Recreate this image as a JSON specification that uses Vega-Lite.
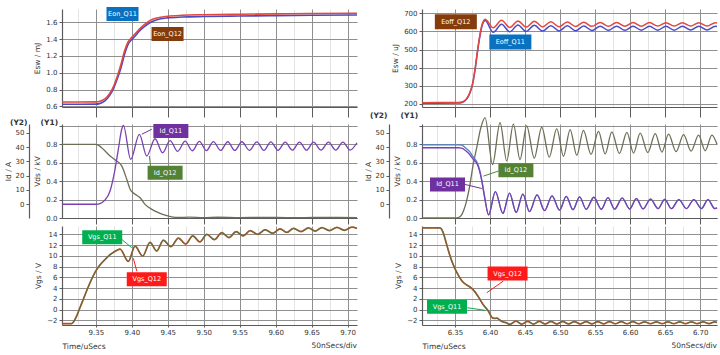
{
 "$schema": "https://vega.github.io/schema/vega-lite/v6.json",
 "background": "#ffffff",
 "padding": {"left": 4, "top": 6, "right": 0, "bottom": 0},
 "config": {
  "font": "DejaVu Sans",
  "view": {"stroke": null},
  "axis": {"labelFontSize": 7, "titleFontSize": 7.5, "titleFontWeight": "normal", "labelColor": "#333333", "titleColor": "#333333", "domainColor": "#5a5a5a", "domainWidth": 1.2, "gridColor": "#8f8f8f", "gridWidth": 1, "tickColor": "#5a5a5a", "labelOverlap": false, "labelFlush": false},
  "axisY": {"tickSize": 3, "labelPadding": 2, "titlePadding": 4, "labelOverlap": false},
  "text": {"font": "DejaVu Sans"}
 },
 "datasets": {
  "eon": [
   {"t": 9.303, "q11": 0.625, "q12": 0.652}, {"t": 9.35, "q11": 0.626, "q12": 0.653}, {"t": 9.355, "q11": 0.632, "q12": 0.658},
   {"t": 9.36, "q11": 0.65, "q12": 0.675}, {"t": 9.365, "q11": 0.685, "q12": 0.708}, {"t": 9.37, "q11": 0.74, "q12": 0.762},
   {"t": 9.375, "q11": 0.82, "q12": 0.845}, {"t": 9.38, "q11": 0.93, "q12": 0.96}, {"t": 9.385, "q11": 1.06, "q12": 1.1},
   {"t": 9.39, "q11": 1.22, "q12": 1.26}, {"t": 9.395, "q11": 1.34, "q12": 1.37}, {"t": 9.4, "q11": 1.395, "q12": 1.42},
   {"t": 9.405, "q11": 1.44, "q12": 1.465}, {"t": 9.41, "q11": 1.49, "q12": 1.515}, {"t": 9.417, "q11": 1.545, "q12": 1.57},
   {"t": 9.425, "q11": 1.595, "q12": 1.62}, {"t": 9.435, "q11": 1.63, "q12": 1.652}, {"t": 9.45, "q11": 1.652, "q12": 1.672},
   {"t": 9.47, "q11": 1.662, "q12": 1.683}, {"t": 9.5, "q11": 1.668, "q12": 1.69}, {"t": 9.55, "q11": 1.674, "q12": 1.696},
   {"t": 9.6, "q11": 1.679, "q12": 1.7}, {"t": 9.65, "q11": 1.683, "q12": 1.704}, {"t": 9.713, "q11": 1.687, "q12": 1.707}
  ],
  "eoff": [
   {"t": 6.303, "q11": 203, "q12": 206}, {"t": 6.355, "q11": 204, "q12": 207}, {"t": 6.36, "q11": 207, "q12": 210},
   {"t": 6.364, "q11": 215, "q12": 218}, {"t": 6.368, "q11": 233, "q12": 236}, {"t": 6.3714, "q11": 260, "q12": 262},
   {"t": 6.375, "q11": 305, "q12": 308}, {"t": 6.3786, "q11": 385, "q12": 388}, {"t": 6.383, "q11": 510, "q12": 515},
   {"t": 6.388, "q11": 620, "q12": 628}, {"t": 6.393, "q11": 660, "q12": 667},
   {"t": 6.4047, "q11": 595, "q12": 620}, {"t": 6.4165, "q11": 640, "q12": 662}, {"t": 6.4282, "q11": 598, "q12": 622},
   {"t": 6.4399, "q11": 636, "q12": 658}, {"t": 6.4517, "q11": 600, "q12": 624}, {"t": 6.4634, "q11": 634, "q12": 656},
   {"t": 6.4751, "q11": 602, "q12": 625}, {"t": 6.4869, "q11": 632, "q12": 654}, {"t": 6.4986, "q11": 603, "q12": 626},
   {"t": 6.5104, "q11": 631, "q12": 652}, {"t": 6.5221, "q11": 604, "q12": 627}, {"t": 6.5338, "q11": 630, "q12": 651},
   {"t": 6.5456, "q11": 605, "q12": 628}, {"t": 6.5573, "q11": 629, "q12": 650}, {"t": 6.569, "q11": 606, "q12": 628},
   {"t": 6.5808, "q11": 629, "q12": 650}, {"t": 6.5925, "q11": 606, "q12": 629}, {"t": 6.6042, "q11": 628, "q12": 649},
   {"t": 6.616, "q11": 607, "q12": 629}, {"t": 6.6277, "q11": 628, "q12": 649}, {"t": 6.6394, "q11": 607, "q12": 630},
   {"t": 6.6512, "q11": 628, "q12": 648}, {"t": 6.6629, "q11": 607, "q12": 630}, {"t": 6.6746, "q11": 628, "q12": 648},
   {"t": 6.6864, "q11": 608, "q12": 630}, {"t": 6.6981, "q11": 628, "q12": 648}, {"t": 6.7098, "q11": 608, "q12": 630},
   {"t": 6.7216, "q11": 628, "q12": 648}, {"t": 6.724, "q11": 627, "q12": 647}
  ],
  "vdsL": [
   {"t": 9.303, "v": 0.8}, {"t": 9.35, "v": 0.8}, {"t": 9.3545, "v": 0.785}, {"t": 9.3604, "v": 0.746}, {"t": 9.3698, "v": 0.673},
   {"t": 9.379, "v": 0.619}, {"t": 9.386, "v": 0.565}, {"t": 9.393, "v": 0.42}, {"t": 9.3978, "v": 0.31}, {"t": 9.4047, "v": 0.257},
   {"t": 9.4115, "v": 0.22}, {"t": 9.4184, "v": 0.148}, {"t": 9.4278, "v": 0.094}, {"t": 9.437, "v": 0.058}, {"t": 9.4463, "v": 0.03},
   {"t": 9.4556, "v": 0.012}, {"t": 9.465, "v": 0.006}, {"t": 9.48, "v": 0.009}, {"t": 9.5, "v": 0.004}, {"t": 9.52, "v": 0.008},
   {"t": 9.55, "v": 0.004}, {"t": 9.58, "v": 0.007}, {"t": 9.62, "v": 0.004}, {"t": 9.66, "v": 0.006}, {"t": 9.713, "v": 0.005}
  ],
  "idL": [
   {"t": 9.303, "a": 0}, {"t": 9.35, "a": 0}, {"t": 9.356, "a": 0.5}, {"t": 9.362, "a": 2.5}, {"t": 9.3698, "a": 9.3},
   {"t": 9.3767, "a": 24.4}, {"t": 9.3813, "a": 38.4}, {"t": 9.386, "a": 52.4}, {"t": 9.3883, "a": 55.2},
   {"t": 9.3985, "a": 31.4}, {"t": 9.4105, "a": 48.9}, {"t": 9.4208, "a": 33.7}, {"t": 9.4323, "a": 45.8},
   {"t": 9.4428, "a": 36.0}, {"t": 9.4532, "a": 44.5}, {"t": 9.4637, "a": 37.0}, {"t": 9.4741, "a": 44.1},
   {"t": 9.4841, "a": 37.4}, {"t": 9.494, "a": 43.9}, {"t": 9.5037, "a": 37.5}, {"t": 9.5134, "a": 43.8},
   {"t": 9.5234, "a": 37.6}, {"t": 9.5334, "a": 43.7}, {"t": 9.5432, "a": 37.6}, {"t": 9.553, "a": 43.7},
   {"t": 9.5634, "a": 37.7}, {"t": 9.5738, "a": 43.6}, {"t": 9.5836, "a": 37.7}, {"t": 9.5933, "a": 43.6},
   {"t": 9.6033, "a": 37.7}, {"t": 9.6132, "a": 43.5}, {"t": 9.6232, "a": 37.8}, {"t": 9.6331, "a": 43.5},
   {"t": 9.6429, "a": 37.8}, {"t": 9.6526, "a": 43.5}, {"t": 9.663, "a": 37.8}, {"t": 9.6734, "a": 43.4},
   {"t": 9.6834, "a": 37.8}, {"t": 9.6934, "a": 43.4}, {"t": 9.7034, "a": 37.9}, {"t": 9.713, "a": 43.0}
  ],
  "vdsR": [
   {"t": 6.303, "v": 0.0}, {"t": 6.35, "v": 0.0}, {"t": 6.355, "v": 0.005}, {"t": 6.36, "v": 0.04}, {"t": 6.365, "v": 0.14},
   {"t": 6.3714, "v": 0.36}, {"t": 6.376, "v": 0.58}, {"t": 6.381, "v": 0.76}, {"t": 6.387, "v": 0.98}, {"t": 6.393, "v": 1.09},
   {"t": 6.4037, "v": 0.58}, {"t": 6.4144, "v": 1.035}, {"t": 6.4239, "v": 0.62}, {"t": 6.4334, "v": 1.018},
   {"t": 6.4429, "v": 0.635}, {"t": 6.4524, "v": 1.0}, {"t": 6.4632, "v": 0.65}, {"t": 6.4739, "v": 0.985},
   {"t": 6.4846, "v": 0.66}, {"t": 6.4953, "v": 0.97}, {"t": 6.5049, "v": 0.67}, {"t": 6.5144, "v": 0.96},
   {"t": 6.5239, "v": 0.68}, {"t": 6.5334, "v": 0.95}, {"t": 6.5442, "v": 0.69}, {"t": 6.5549, "v": 0.94},
   {"t": 6.5644, "v": 0.695}, {"t": 6.5739, "v": 0.935}, {"t": 6.5847, "v": 0.7}, {"t": 6.5954, "v": 0.93},
   {"t": 6.6049, "v": 0.705}, {"t": 6.6144, "v": 0.92}, {"t": 6.6252, "v": 0.71}, {"t": 6.6359, "v": 0.915},
   {"t": 6.6454, "v": 0.715}, {"t": 6.6549, "v": 0.91}, {"t": 6.6656, "v": 0.72}, {"t": 6.6763, "v": 0.905},
   {"t": 6.687, "v": 0.725}, {"t": 6.6977, "v": 0.9}, {"t": 6.7072, "v": 0.73}, {"t": 6.7167, "v": 0.9}, {"t": 6.724, "v": 0.8}
  ],
  "idR": [
   {"t": 6.303, "q11": 41.5, "q12": 39.5}, {"t": 6.355, "q11": 41.5, "q12": 39.5}, {"t": 6.3596, "q11": 41.3, "q12": 39.3},
   {"t": 6.365, "q11": 39.5, "q12": 37.6}, {"t": 6.3714, "q11": 36.6, "q12": 34.6}, {"t": 6.376, "q11": 33.2, "q12": 31.5},
   {"t": 6.381, "q11": 29.8, "q12": 28.8}, {"t": 6.385, "q11": 24.5, "q12": 23.5}, {"t": 6.388, "q11": 18.0, "q12": 17.0},
   {"t": 6.391, "q11": 9.5, "q12": 8.5}, {"t": 6.393, "q11": 3.5, "q12": 3.0}, {"t": 6.398, "q11": -7.3, "q12": -7.5},
   {"t": 6.4077, "q11": 8.9, "q12": 8.9}, {"t": 6.4184, "q11": -6.4, "q12": -6.4}, {"t": 6.4279, "q11": 7.8, "q12": 7.8},
   {"t": 6.4374, "q11": -5.7, "q12": -5.7}, {"t": 6.4469, "q11": 7.15, "q12": 7.15}, {"t": 6.4564, "q11": -5.1, "q12": -5.1},
   {"t": 6.4672, "q11": 6.5, "q12": 6.5}, {"t": 6.4779, "q11": -4.4, "q12": -4.4}, {"t": 6.4886, "q11": 5.9, "q12": 5.9},
   {"t": 6.4993, "q11": -4.1, "q12": -4.1}, {"t": 6.5089, "q11": 5.5, "q12": 5.5}, {"t": 6.5184, "q11": -3.8, "q12": -3.8},
   {"t": 6.5279, "q11": 5.2, "q12": 5.2}, {"t": 6.5374, "q11": -3.6, "q12": -3.6}, {"t": 6.5482, "q11": 4.9, "q12": 4.9},
   {"t": 6.5589, "q11": -3.5, "q12": -3.5}, {"t": 6.5684, "q11": 4.6, "q12": 4.6}, {"t": 6.5779, "q11": -3.4, "q12": -3.4},
   {"t": 6.5887, "q11": 4.3, "q12": 4.3}, {"t": 6.5994, "q11": -3.3, "q12": -3.3}, {"t": 6.6089, "q11": 3.9, "q12": 3.9},
   {"t": 6.6184, "q11": -3.2, "q12": -3.2}, {"t": 6.6292, "q11": 3.6, "q12": 3.6}, {"t": 6.6399, "q11": -3.1, "q12": -3.1},
   {"t": 6.6494, "q11": 3.4, "q12": 3.4}, {"t": 6.6589, "q11": -3.1, "q12": -3.1}, {"t": 6.6696, "q11": 3.3, "q12": 3.3},
   {"t": 6.6803, "q11": -3.0, "q12": -3.0}, {"t": 6.691, "q11": 3.3, "q12": 3.3}, {"t": 6.7017, "q11": -3.0, "q12": -3.0},
   {"t": 6.7112, "q11": 3.2, "q12": 3.2}, {"t": 6.7207, "q11": -3.0, "q12": -3.0}, {"t": 6.724, "q11": -2.5, "q12": -2.5}
  ],
  "vgsL": [
   {"t": 9.303, "v": -2.6}, {"t": 9.3162, "v": -2.6}, {"t": 9.319, "v": -2.3}, {"t": 9.3232, "v": -1.26}, {"t": 9.3278, "v": 0.3},
   {"t": 9.3324, "v": 1.83}, {"t": 9.337, "v": 3.4}, {"t": 9.3418, "v": 4.94}, {"t": 9.3465, "v": 6.3}, {"t": 9.351, "v": 7.41},
   {"t": 9.3555, "v": 8.25}, {"t": 9.3603, "v": 8.97}, {"t": 9.365, "v": 9.6}, {"t": 9.3696, "v": 10.2}, {"t": 9.3745, "v": 10.65},
   {"t": 9.379, "v": 11.0}, {"t": 9.3837, "v": 11.25}, {"t": 9.3952, "v": 8.95}, {"t": 9.4045, "v": 11.8}, {"t": 9.4151, "v": 9.95},
   {"t": 9.4254, "v": 12.5}, {"t": 9.4346, "v": 10.9}, {"t": 9.4439, "v": 12.9}, {"t": 9.4543, "v": 11.7}, {"t": 9.4648, "v": 13.3},
   {"t": 9.4748, "v": 12.2}, {"t": 9.4848, "v": 13.7}, {"t": 9.4946, "v": 12.6}, {"t": 9.5043, "v": 14.0}, {"t": 9.5147, "v": 13.0},
   {"t": 9.5251, "v": 14.3}, {"t": 9.535, "v": 13.4}, {"t": 9.545, "v": 14.5}, {"t": 9.5548, "v": 13.7}, {"t": 9.5645, "v": 14.7},
   {"t": 9.5749, "v": 14.0}, {"t": 9.5853, "v": 14.85}, {"t": 9.5958, "v": 14.2}, {"t": 9.6062, "v": 15.0}, {"t": 9.6155, "v": 14.35},
   {"t": 9.6247, "v": 15.1}, {"t": 9.6352, "v": 14.5}, {"t": 9.6456, "v": 15.2}, {"t": 9.6549, "v": 14.6}, {"t": 9.6642, "v": 15.25},
   {"t": 9.6747, "v": 14.7}, {"t": 9.6851, "v": 15.3}, {"t": 9.6955, "v": 14.75}, {"t": 9.7059, "v": 15.35}, {"t": 9.713, "v": 15.1}
  ],
  "vgsR": [
   {"t": 6.303, "v": 15.2}, {"t": 6.328, "v": 15.2}, {"t": 6.3296, "v": 15.15}, {"t": 6.333, "v": 14.4}, {"t": 6.3365, "v": 12.9},
   {"t": 6.3404, "v": 11.1}, {"t": 6.344, "v": 9.6}, {"t": 6.3476, "v": 8.35}, {"t": 6.352, "v": 7.1}, {"t": 6.357, "v": 5.9},
   {"t": 6.3615, "v": 5.1}, {"t": 6.3667, "v": 4.6}, {"t": 6.3715, "v": 4.2}, {"t": 6.376, "v": 3.7}, {"t": 6.383, "v": 2.46},
   {"t": 6.3904, "v": 0.9}, {"t": 6.398, "v": -0.33}, {"t": 6.4024, "v": -1.4}, {"t": 6.406, "v": -1.65}, {"t": 6.41, "v": -1.6},
   {"t": 6.4135, "v": -1.9}, {"t": 6.417, "v": -2.2}, {"t": 6.424, "v": -2.5}, {"t": 6.4285, "v": -2.75}, {"t": 6.437, "v": -2.15},
   {"t": 6.4454, "v": -2.7}, {"t": 6.4537, "v": -2.2}, {"t": 6.4621, "v": -2.7}, {"t": 6.4704, "v": -2.2}, {"t": 6.4788, "v": -2.68},
   {"t": 6.4871, "v": -2.22}, {"t": 6.4955, "v": -2.68}, {"t": 6.5038, "v": -2.22}, {"t": 6.5122, "v": -2.66}, {"t": 6.5205, "v": -2.24},
   {"t": 6.5289, "v": -2.66}, {"t": 6.5372, "v": -2.24}, {"t": 6.5456, "v": -2.65}, {"t": 6.5539, "v": -2.25}, {"t": 6.5623, "v": -2.65},
   {"t": 6.5706, "v": -2.25}, {"t": 6.579, "v": -2.64}, {"t": 6.5873, "v": -2.26}, {"t": 6.5957, "v": -2.64}, {"t": 6.604, "v": -2.26},
   {"t": 6.6124, "v": -2.64}, {"t": 6.6207, "v": -2.27}, {"t": 6.6291, "v": -2.63}, {"t": 6.6374, "v": -2.27}, {"t": 6.6458, "v": -2.63},
   {"t": 6.6541, "v": -2.28}, {"t": 6.6625, "v": -2.63}, {"t": 6.6708, "v": -2.28}, {"t": 6.6792, "v": -2.62}, {"t": 6.6875, "v": -2.28},
   {"t": 6.6959, "v": -2.62}, {"t": 6.7042, "v": -2.29}, {"t": 6.7126, "v": -2.62}, {"t": 6.7209, "v": -2.29}, {"t": 6.724, "v": -2.4}
  ],
  "annL1": [{"t": 9.3871, "y": 1.699, "label": "Eon_Q11"}, {"t": 9.4497, "y": 1.461, "label": "Eon_Q12"}],
  "annR1": [{"t": 6.3513, "y": 653, "label": "Eoff_Q12"}, {"t": 6.4291, "y": 542, "label": "Eoff_Q11"}],
  "annL2": [{"t": 9.4543, "y": 0.945, "label": "Id_Q11"}, {"t": 9.4463, "y": 0.492, "label": "Id_Q12"}],
  "arrL2": [{"t": 9.4278, "y": 0.963, "t2": 9.4139, "y2": 0.909, "label": "Id_Q11"}, {"t": 9.426, "y": 0.565, "t2": 9.4244, "y2": 0.673, "label": "Id_Q12"}],
  "annR2": [{"t": 6.437, "y": 0.518, "label": "Id_Q12"}, {"t": 6.3394, "y": 0.364, "label": "Id_Q11"}],
  "arrR2": [{"t": 6.412, "y": 0.509, "t2": 6.3906, "y2": 0.4545, "label": "Id_Q12"}, {"t": 6.3644, "y": 0.364, "t2": 6.3883, "y2": 0.32, "label": "Id_Q11"}],
  "annL3": [{"t": 9.3589, "y": 13.44, "label": "Vgs_Q11"}, {"t": 9.4208, "y": 5.63, "label": "Vgs_Q12"}],
  "arrL3": [{"t": 9.386, "y": 13.07, "t2": 9.3999, "y2": 11.51, "label": "Vgs_Q11"}, {"t": 9.4069, "y": 7.17, "t2": 9.4022, "y2": 9.53, "label": "Vgs_Q12"}],
  "annR3": [{"t": 6.4251, "y": 6.71, "label": "Vgs_Q12"}, {"t": 6.3387, "y": 0.51, "label": "Vgs_Q11"}],
  "arrR3": [{"t": 6.4191, "y": 5.31, "t2": 6.3954, "y2": 3.13, "label": "Vgs_Q12"}, {"t": 6.3677, "y": 0.34, "t2": 6.393, "y2": -0.14, "label": "Vgs_Q11"}]
 },
 "spacing": 3,
 "hconcat": [
  {
   "spacing": 17,
   "bounds": "flush",
   "vconcat": [
    {
     "width": 295, "height": 98,
     "resolve": {"scale": {"y": "independent"}},
     "encoding": {
      "x": {"field": "t", "type": "quantitative", "title": null, "scale": {"domain": [9.303, 9.713], "nice": false, "zero": false},
            "axis": {"values": [9.325, 9.35, 9.375, 9.4, 9.425, 9.45, 9.475, 9.5, 9.525, 9.55, 9.575, 9.6, 9.625, 9.65, 9.675, 9.7], "labels": false, "title": null, "grid": true, "tickSize": 10,
                     "gridColor": {"condition": {"test": "round(datum.value*1000) % 50 != 0", "value": "#e3e3e3"}, "value": "#8f8f8f"},
                     "tickColor": {"condition": {"test": "round(datum.value*1000) % 50 != 0", "value": "rgba(0,0,0,0)"}, "value": "#5a5a5a"}}}
     },
     "layer": [
      {"data": {"name": "eon"}, "mark": {"type": "line", "color": "#4b4bbf", "strokeWidth": 1.6, "interpolate": "monotone"},
       "encoding": {
        "y": {"field": "q11", "type": "quantitative", "scale": {"domain": [0.592, 1.758], "nice": false, "zero": false},
              "axis": {"values": [0.6, 0.8, 1.0, 1.2, 1.4, 1.6], "format": ".1f", "title": "Esw / mJ", "labelOverlap": false}}}},
      {"data": {"name": "eon"}, "mark": {"type": "line", "color": "#e4473d", "strokeWidth": 1.6, "interpolate": "monotone"},
       "encoding": {
        "y": {"field": "q12", "type": "quantitative", "scale": {"domain": [0.592, 1.758], "nice": false, "zero": false}, "axis": null}}},
      {"data": {"name": "annL1"}, "mark": {"type": "point", "shape": "M-1,-0.4375L1,-0.4375L1,0.4375L-1,0.4375Z", "size": 1024, "filled": true, "opacity": 1, "strokeWidth": 0},
       "encoding": {
        "y": {"field": "y", "type": "quantitative", "scale": {"domain": [0.592, 1.758], "nice": false, "zero": false}, "axis": null},
        "color": {"field": "label", "type": "nominal", "legend": null, "scale": {"domain": ["Eon_Q11", "Eon_Q12", "Eoff_Q11", "Eoff_Q12", "Id_Q11", "Id_Q12", "Vgs_Q11", "Vgs_Q12"], "range": ["#0a70c0", "#843c0c", "#0a70c0", "#843c0c", "#7030a0", "#548235", "#00b050", "#ff1a1a"]}}}},
      {"data": {"name": "annL1"}, "mark": {"type": "text", "color": "#ffffff", "fontSize": 6.5, "align": "center", "baseline": "middle"},
       "encoding": {
        "y": {"field": "y", "type": "quantitative", "scale": {"domain": [0.592, 1.758], "nice": false, "zero": false}, "axis": null},
        "text": {"field": "label"}}}
     ]
    },
    {
     "spacing": 8,
     "bounds": "flush",
     "vconcat": [
      {
       "width": 295, "height": 94,
       "title": {"text": "(Y2)\u00a0\u00a0\u00a0\u00a0\u00a0(Y1)", "anchor": "start", "frame": "group", "orient": "top", "dx": -52, "offset": -5, "fontSize": 7.5, "fontWeight": "bold", "color": "#333333", "font": "DejaVu Sans"},
       "resolve": {"scale": {"y": "independent"}},
       "encoding": {
        "x": {"field": "t", "type": "quantitative", "title": null, "scale": {"domain": [9.303, 9.713], "nice": false, "zero": false},
              "axis": {"values": [9.325, 9.35, 9.375, 9.4, 9.425, 9.45, 9.475, 9.5, 9.525, 9.55, 9.575, 9.6, 9.625, 9.65, 9.675, 9.7], "labels": false, "title": null, "grid": true, "tickSize": 6,
                       "gridColor": {"condition": {"test": "round(datum.value*1000) % 50 != 0", "value": "#e3e3e3"}, "value": "#8f8f8f"},
                       "tickColor": {"condition": {"test": "round(datum.value*1000) % 50 != 0", "value": "rgba(0,0,0,0)"}, "value": "#5a5a5a"}}}
       },
       "layer": [
        {"data": {"name": "vdsL"}, "mark": {"type": "line", "color": "#6e6e56", "strokeWidth": 1.3, "interpolate": "monotone"},
         "encoding": {
          "y": {"field": "v", "type": "quantitative", "scale": {"domain": [0, 1.02], "nice": false, "zero": false},
                "axis": {"values": [0, 0.2, 0.4, 0.6, 0.8, 1.0], "labelExpr": "datum.value > 0.95 ? '' : format(datum.value, '.1f')", "title": "Vds / kV", "labelOverlap": false}}}},
        {"data": {"name": "idL"}, "mark": {"type": "line", "color": "#7a3fb0", "strokeWidth": 1.3, "interpolate": "monotone"},
         "encoding": {
          "y": {"field": "a", "type": "quantitative", "scale": {"domain": [-9.6, 56.1], "nice": false, "zero": false},
                "axis": {"orient": "left", "offset": 33, "values": [0, 10, 20, 30, 40, 50], "grid": false, "title": "Id / A", "titlePadding": 3, "labelOverlap": false}}}},
        {"data": {"name": "arrL2"}, "mark": {"type": "rule", "strokeWidth": 1},
         "encoding": {
          "y": {"field": "y", "type": "quantitative", "scale": {"domain": [0, 1.02], "nice": false, "zero": false}, "axis": null},
          "x2": {"field": "t2"}, "y2": {"field": "y2"},
          "color": {"field": "label", "type": "nominal", "legend": null, "scale": {"domain": ["Eon_Q11", "Eon_Q12", "Eoff_Q11", "Eoff_Q12", "Id_Q11", "Id_Q12", "Vgs_Q11", "Vgs_Q12"], "range": ["#0a70c0", "#843c0c", "#0a70c0", "#843c0c", "#7030a0", "#548235", "#00b050", "#ff1a1a"]}}}},
        {"data": {"name": "annL2"}, "mark": {"type": "point", "shape": "M-1,-0.4L1,-0.4L1,0.4L-1,0.4Z", "size": 1225, "filled": true, "opacity": 1, "strokeWidth": 0},
         "encoding": {
          "y": {"field": "y", "type": "quantitative", "scale": {"domain": [0, 1.02], "nice": false, "zero": false}, "axis": null},
          "color": {"field": "label", "type": "nominal", "legend": null, "scale": {"domain": ["Eon_Q11", "Eon_Q12", "Eoff_Q11", "Eoff_Q12", "Id_Q11", "Id_Q12", "Vgs_Q11", "Vgs_Q12"], "range": ["#0a70c0", "#843c0c", "#0a70c0", "#843c0c", "#7030a0", "#548235", "#00b050", "#ff1a1a"]}}}},
        {"data": {"name": "annL2"}, "mark": {"type": "text", "color": "#ffffff", "fontSize": 6.5, "align": "center", "baseline": "middle"},
         "encoding": {
          "y": {"field": "y", "type": "quantitative", "scale": {"domain": [0, 1.02], "nice": false, "zero": false}, "axis": null},
          "text": {"field": "label"}}}
       ]
      },
      {
       "width": 295, "height": 99,
       "title": {"text": "50nSecs/div", "anchor": "end", "frame": "group", "orient": "bottom", "offset": -8, "fontSize": 7.5, "fontWeight": "normal", "color": "#333333", "font": "DejaVu Sans"},
       "resolve": {"scale": {"y": "independent"}},
       "encoding": {
        "x": {"field": "t", "type": "quantitative", "title": "Time/uSecs", "scale": {"domain": [9.303, 9.713], "nice": false, "zero": false},
              "axis": {"values": [9.325, 9.35, 9.375, 9.4, 9.425, 9.45, 9.475, 9.5, 9.525, 9.55, 9.575, 9.6, 9.625, 9.65, 9.675, 9.7],
                       "labelExpr": "round(datum.value*1000) % 50 == 0 ? format(datum.value, '.2f') : ''", "title": "Time/uSecs", "titleAnchor": "start", "titlePadding": 7, "labelPadding": 1, "grid": true, "tickSize": 2,
                       "gridColor": {"condition": {"test": "round(datum.value*1000) % 50 != 0", "value": "#e3e3e3"}, "value": "#8f8f8f"},
                       "tickColor": {"condition": {"test": "round(datum.value*1000) % 50 != 0", "value": "rgba(0,0,0,0)"}, "value": "#5a5a5a"}}}
       },
       "layer": [
        {"data": {"name": "vgsL"}, "mark": {"type": "line", "color": "#d9603a", "strokeWidth": 1.7, "interpolate": "monotone"},
         "encoding": {
          "y": {"field": "v", "type": "quantitative", "scale": {"domain": [-2.87, 15.55], "nice": false, "zero": false},
                "axis": {"values": [-2, 0, 2, 4, 6, 8, 10, 12, 14], "title": "Vgs / V", "labelOverlap": false}}}},
        {"data": {"name": "vgsL"}, "mark": {"type": "line", "color": "#676a3c", "strokeWidth": 1.3, "interpolate": "monotone"},
         "encoding": {
          "y": {"field": "v", "type": "quantitative", "scale": {"domain": [-2.87, 15.55], "nice": false, "zero": false}, "axis": null}}},
        {"data": {"name": "arrL3"}, "mark": {"type": "rule", "strokeWidth": 1},
         "encoding": {
          "y": {"field": "y", "type": "quantitative", "scale": {"domain": [-2.87, 15.55], "nice": false, "zero": false}, "axis": null},
          "x2": {"field": "t2"}, "y2": {"field": "y2"},
          "color": {"field": "label", "type": "nominal", "legend": null, "scale": {"domain": ["Eon_Q11", "Eon_Q12", "Eoff_Q11", "Eoff_Q12", "Id_Q11", "Id_Q12", "Vgs_Q11", "Vgs_Q12"], "range": ["#0a70c0", "#843c0c", "#0a70c0", "#843c0c", "#7030a0", "#548235", "#00b050", "#ff1a1a"]}}}},
        {"data": {"name": "annL3"}, "mark": {"type": "point", "shape": "M-1,-0.35L1,-0.35L1,0.35L-1,0.35Z", "size": 1600, "filled": true, "opacity": 1, "strokeWidth": 0},
         "encoding": {
          "y": {"field": "y", "type": "quantitative", "scale": {"domain": [-2.87, 15.55], "nice": false, "zero": false}, "axis": null},
          "color": {"field": "label", "type": "nominal", "legend": null, "scale": {"domain": ["Eon_Q11", "Eon_Q12", "Eoff_Q11", "Eoff_Q12", "Id_Q11", "Id_Q12", "Vgs_Q11", "Vgs_Q12"], "range": ["#0a70c0", "#843c0c", "#0a70c0", "#843c0c", "#7030a0", "#548235", "#00b050", "#ff1a1a"]}}}},
        {"data": {"name": "annL3"}, "mark": {"type": "text", "color": "#ffffff", "fontSize": 6.5, "align": "center", "baseline": "middle"},
         "encoding": {
          "y": {"field": "y", "type": "quantitative", "scale": {"domain": [-2.87, 15.55], "nice": false, "zero": false}, "axis": null},
          "text": {"field": "label"}}}
       ]
      }
     ]
    }
   ]
  },
  {
   "spacing": 17,
   "bounds": "flush",
   "vconcat": [
    {
     "width": 295, "height": 98,
     "resolve": {"scale": {"y": "independent"}},
     "encoding": {
      "x": {"field": "t", "type": "quantitative", "title": null, "scale": {"domain": [6.303, 6.724], "nice": false, "zero": false},
            "axis": {"values": [6.325, 6.35, 6.375, 6.4, 6.425, 6.45, 6.475, 6.5, 6.525, 6.55, 6.575, 6.6, 6.625, 6.65, 6.675, 6.7], "labels": false, "title": null, "grid": true, "tickSize": 10,
                     "gridColor": {"condition": {"test": "round(datum.value*1000) % 50 != 0", "value": "#e3e3e3"}, "value": "#8f8f8f"},
                     "tickColor": {"condition": {"test": "round(datum.value*1000) % 50 != 0", "value": "rgba(0,0,0,0)"}, "value": "#5a5a5a"}}}
     },
     "layer": [
      {"data": {"name": "eoff"}, "mark": {"type": "line", "color": "#4b4bc8", "strokeWidth": 1.5, "interpolate": "monotone"},
       "encoding": {
        "y": {"field": "q11", "type": "quantitative", "scale": {"domain": [182, 724], "nice": false, "zero": false},
              "axis": {"values": [200, 300, 400, 500, 600, 700], "format": "d", "title": "Esw / uJ", "labelOverlap": false}}}},
      {"data": {"name": "eoff"}, "mark": {"type": "line", "color": "#e4473d", "strokeWidth": 1.5, "interpolate": "monotone"},
       "encoding": {
        "y": {"field": "q12", "type": "quantitative", "scale": {"domain": [182, 724], "nice": false, "zero": false}, "axis": null}}},
      {"data": {"name": "annR1"}, "mark": {"type": "point", "shape": "M-1,-0.357L1,-0.357L1,0.357L-1,0.357Z", "size": 1764, "filled": true, "opacity": 1, "strokeWidth": 0},
       "encoding": {
        "y": {"field": "y", "type": "quantitative", "scale": {"domain": [182, 724], "nice": false, "zero": false}, "axis": null},
        "color": {"field": "label", "type": "nominal", "legend": null, "scale": {"domain": ["Eon_Q11", "Eon_Q12", "Eoff_Q11", "Eoff_Q12", "Id_Q11", "Id_Q12", "Vgs_Q11", "Vgs_Q12"], "range": ["#0a70c0", "#843c0c", "#0a70c0", "#843c0c", "#7030a0", "#548235", "#00b050", "#ff1a1a"]}}}},
      {"data": {"name": "annR1"}, "mark": {"type": "text", "color": "#ffffff", "fontSize": 6.5, "align": "center", "baseline": "middle"},
       "encoding": {
        "y": {"field": "y", "type": "quantitative", "scale": {"domain": [182, 724], "nice": false, "zero": false}, "axis": null},
        "text": {"field": "label"}}}
     ]
    },
    {
     "spacing": 8,
     "bounds": "flush",
     "vconcat": [
      {
       "width": 295, "height": 94,
       "title": {"text": "(Y2)\u00a0\u00a0\u00a0\u00a0\u00a0(Y1)", "anchor": "start", "frame": "group", "orient": "top", "dx": -52, "offset": -5, "fontSize": 7.5, "fontWeight": "bold", "color": "#333333", "font": "DejaVu Sans"},
       "resolve": {"scale": {"y": "independent"}},
       "encoding": {
        "x": {"field": "t", "type": "quantitative", "title": null, "scale": {"domain": [6.303, 6.724], "nice": false, "zero": false},
              "axis": {"values": [6.325, 6.35, 6.375, 6.4, 6.425, 6.45, 6.475, 6.5, 6.525, 6.55, 6.575, 6.6, 6.625, 6.65, 6.675, 6.7], "labels": false, "title": null, "grid": true, "tickSize": 6,
                       "gridColor": {"condition": {"test": "round(datum.value*1000) % 50 != 0", "value": "#e3e3e3"}, "value": "#8f8f8f"},
                       "tickColor": {"condition": {"test": "round(datum.value*1000) % 50 != 0", "value": "rgba(0,0,0,0)"}, "value": "#5a5a5a"}}}
       },
       "layer": [
        {"data": {"name": "vdsR"}, "mark": {"type": "line", "color": "#6e6e56", "strokeWidth": 1.3, "interpolate": "monotone"},
         "encoding": {
          "y": {"field": "v", "type": "quantitative", "scale": {"domain": [0, 1.02], "nice": false, "zero": false},
                "axis": {"values": [0, 0.2, 0.4, 0.6, 0.8, 1.0], "labelExpr": "datum.value > 0.95 ? '' : format(datum.value, '.1f')", "title": "Vds / kV", "labelOverlap": false}}}},
        {"data": {"name": "idR"}, "mark": {"type": "line", "color": "#4f81c8", "strokeWidth": 1.3, "interpolate": "monotone"},
         "encoding": {
          "y": {"field": "q11", "type": "quantitative", "scale": {"domain": [-9.6, 56.1], "nice": false, "zero": false},
                "axis": {"orient": "left", "offset": 33, "values": [0, 10, 20, 30, 40, 50], "grid": false, "title": "Id / A", "titlePadding": 3, "labelOverlap": false}}}},
        {"data": {"name": "idR"}, "mark": {"type": "line", "color": "#7a3fb0", "strokeWidth": 1.3, "interpolate": "monotone"},
         "encoding": {
          "y": {"field": "q12", "type": "quantitative", "scale": {"domain": [-9.6, 56.1], "nice": false, "zero": false}, "axis": null}}},
        {"data": {"name": "arrR2"}, "mark": {"type": "rule", "strokeWidth": 1},
         "encoding": {
          "y": {"field": "y", "type": "quantitative", "scale": {"domain": [0, 1.02], "nice": false, "zero": false}, "axis": null},
          "x2": {"field": "t2"}, "y2": {"field": "y2"},
          "color": {"field": "label", "type": "nominal", "legend": null, "scale": {"domain": ["Eon_Q11", "Eon_Q12", "Eoff_Q11", "Eoff_Q12", "Id_Q11", "Id_Q12", "Vgs_Q11", "Vgs_Q12"], "range": ["#0a70c0", "#843c0c", "#0a70c0", "#843c0c", "#7030a0", "#548235", "#00b050", "#ff1a1a"]}}}},
        {"data": {"name": "annR2"}, "mark": {"type": "point", "shape": "M-1,-0.4L1,-0.4L1,0.4L-1,0.4Z", "size": 1225, "filled": true, "opacity": 1, "strokeWidth": 0},
         "encoding": {
          "y": {"field": "y", "type": "quantitative", "scale": {"domain": [0, 1.02], "nice": false, "zero": false}, "axis": null},
          "color": {"field": "label", "type": "nominal", "legend": null, "scale": {"domain": ["Eon_Q11", "Eon_Q12", "Eoff_Q11", "Eoff_Q12", "Id_Q11", "Id_Q12", "Vgs_Q11", "Vgs_Q12"], "range": ["#0a70c0", "#843c0c", "#0a70c0", "#843c0c", "#7030a0", "#548235", "#00b050", "#ff1a1a"]}}}},
        {"data": {"name": "annR2"}, "mark": {"type": "text", "color": "#ffffff", "fontSize": 6.5, "align": "center", "baseline": "middle"},
         "encoding": {
          "y": {"field": "y", "type": "quantitative", "scale": {"domain": [0, 1.02], "nice": false, "zero": false}, "axis": null},
          "text": {"field": "label"}}}
       ]
      },
      {
       "width": 295, "height": 99,
       "title": {"text": "50nSecs/div", "anchor": "end", "frame": "group", "orient": "bottom", "offset": -8, "fontSize": 7.5, "fontWeight": "normal", "color": "#333333", "font": "DejaVu Sans"},
       "resolve": {"scale": {"y": "independent"}},
       "encoding": {
        "x": {"field": "t", "type": "quantitative", "title": "Time/uSecs", "scale": {"domain": [6.303, 6.724], "nice": false, "zero": false},
              "axis": {"values": [6.325, 6.35, 6.375, 6.4, 6.425, 6.45, 6.475, 6.5, 6.525, 6.55, 6.575, 6.6, 6.625, 6.65, 6.675, 6.7],
                       "labelExpr": "round(datum.value*1000) % 50 == 0 ? format(datum.value, '.2f') : ''", "title": "Time/uSecs", "titleAnchor": "start", "titlePadding": 7, "labelPadding": 1, "grid": true, "tickSize": 2,
                       "gridColor": {"condition": {"test": "round(datum.value*1000) % 50 != 0", "value": "#e3e3e3"}, "value": "#8f8f8f"},
                       "tickColor": {"condition": {"test": "round(datum.value*1000) % 50 != 0", "value": "rgba(0,0,0,0)"}, "value": "#5a5a5a"}}}
       },
       "layer": [
        {"data": {"name": "vgsR"}, "mark": {"type": "line", "color": "#d9603a", "strokeWidth": 1.7, "interpolate": "monotone"},
         "encoding": {
          "y": {"field": "v", "type": "quantitative", "scale": {"domain": [-2.87, 15.55], "nice": false, "zero": false},
                "axis": {"values": [-2, 0, 2, 4, 6, 8, 10, 12, 14], "title": "Vgs / V", "labelOverlap": false}}}},
        {"data": {"name": "vgsR"}, "mark": {"type": "line", "color": "#676a3c", "strokeWidth": 1.3, "interpolate": "monotone"},
         "encoding": {
          "y": {"field": "v", "type": "quantitative", "scale": {"domain": [-2.87, 15.55], "nice": false, "zero": false}, "axis": null}}},
        {"data": {"name": "arrR3"}, "mark": {"type": "rule", "strokeWidth": 1},
         "encoding": {
          "y": {"field": "y", "type": "quantitative", "scale": {"domain": [-2.87, 15.55], "nice": false, "zero": false}, "axis": null},
          "x2": {"field": "t2"}, "y2": {"field": "y2"},
          "color": {"field": "label", "type": "nominal", "legend": null, "scale": {"domain": ["Eon_Q11", "Eon_Q12", "Eoff_Q11", "Eoff_Q12", "Id_Q11", "Id_Q12", "Vgs_Q11", "Vgs_Q12"], "range": ["#0a70c0", "#843c0c", "#0a70c0", "#843c0c", "#7030a0", "#548235", "#00b050", "#ff1a1a"]}}}},
        {"data": {"name": "annR3"}, "mark": {"type": "point", "shape": "M-1,-0.35L1,-0.35L1,0.35L-1,0.35Z", "size": 1600, "filled": true, "opacity": 1, "strokeWidth": 0},
         "encoding": {
          "y": {"field": "y", "type": "quantitative", "scale": {"domain": [-2.87, 15.55], "nice": false, "zero": false}, "axis": null},
          "color": {"field": "label", "type": "nominal", "legend": null, "scale": {"domain": ["Eon_Q11", "Eon_Q12", "Eoff_Q11", "Eoff_Q12", "Id_Q11", "Id_Q12", "Vgs_Q11", "Vgs_Q12"], "range": ["#0a70c0", "#843c0c", "#0a70c0", "#843c0c", "#7030a0", "#548235", "#00b050", "#ff1a1a"]}}}},
        {"data": {"name": "annR3"}, "mark": {"type": "text", "color": "#ffffff", "fontSize": 6.5, "align": "center", "baseline": "middle"},
         "encoding": {
          "y": {"field": "y", "type": "quantitative", "scale": {"domain": [-2.87, 15.55], "nice": false, "zero": false}, "axis": null},
          "text": {"field": "label"}}}
       ]
      }
     ]
    }
   ]
  }
 ]
}
